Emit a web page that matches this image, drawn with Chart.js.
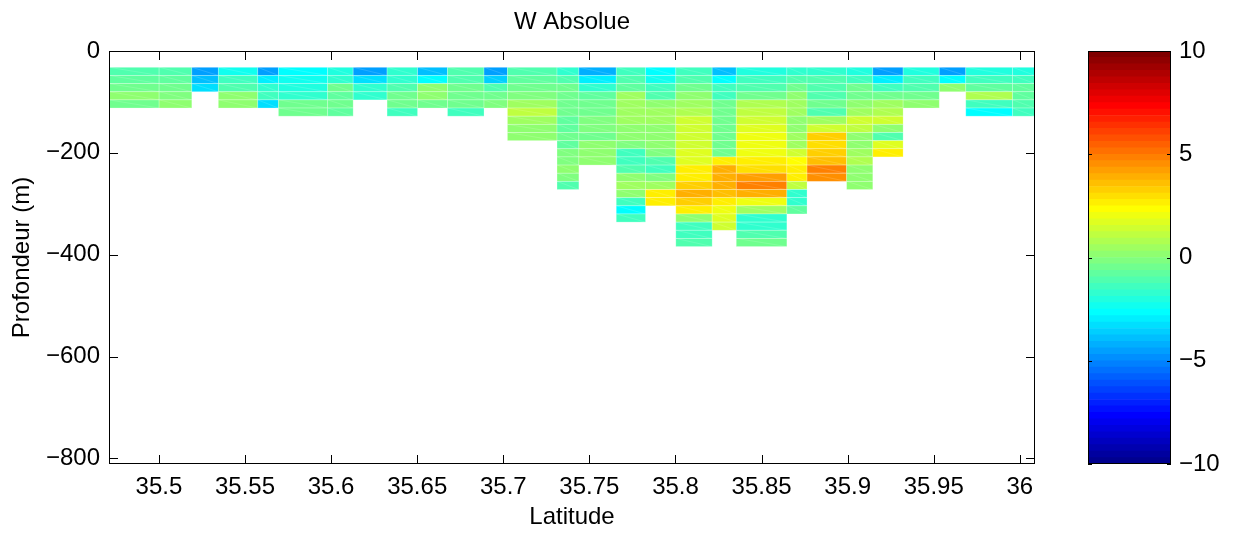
<!DOCTYPE html>
<html>
<head>
<meta charset="utf-8">
<title>W Absolue</title>
<script src="https://cdn.jsdelivr.net/npm/chart.js@4.4.1/dist/chart.umd.min.js"></script>
<style>
  body { margin: 0; background: #fff; }
  #wrap { position: relative; width: 1235px; height: 533px; }
  #wrap canvas { position: absolute; top: 0; }
  #pcolor { left: 0; }
  #cbar { left: 1035px; }
</style>
</head>
<body>
<div id="wrap">
  <canvas id="pcolor" width="1235" height="533"></canvas>
  <canvas id="cbar" width="200" height="533"></canvas>
</div>
<script>
// station latitudes = cell edges along the section
var lats = [35.4710, 35.5001, 35.5191, 35.5345, 35.5574, 35.5694, 35.5980, 35.6128,
            35.6325, 35.6502, 35.6676, 35.6888, 35.7024, 35.7312, 35.7439, 35.7656,
            35.7826, 35.8002, 35.8213, 35.8353, 35.8647, 35.8764, 35.8994, 35.9146,
            35.9322, 35.9532, 35.9686, 35.9958, 36.0088];

// depth bin edges (m)
var depths = [-32, -48, -64, -80, -96, -112, -128, -144, -160, -176, -192, -208,
              -224, -240, -256, -272, -288, -304, -320, -336, -352, -368, -384];

// W per station, top bin first (missing bins are simply not listed)
var w = [
  [-1.1, -0.9, -0.6, 0.0, -0.4],
  [-1.0, -0.7, -0.5, -0.2, 0.0],
  [-4.6, -3.8, -3.2],
  [-2.5, -1.3, -1.1, 0.0, 0.3],
  [-4.6, -3.0, -1.8, -1.3, -3.3],
  [-2.6, -2.4, -2.0, -1.7, -0.4, -0.4],
  [-2.1, -1.6, -0.6, -0.8, -0.6, -0.7],
  [-4.4, -3.3, -1.6, -1.7],
  [-1.8, -1.6, -1.0, -0.4, -0.4, -1.3],
  [-3.8, -2.7, 0.0, 0.0, -0.4],
  [-1.2, -1.0, -0.4, -0.4, -0.6, -1.3],
  [-4.4, -3.5, -1.1, -0.6, -0.3],
  [-1.0, -0.7, -0.5, -0.1, 0.6, 1.0, 0.5, 0.3, 0.3],
  [-1.8, -1.2, -0.6, -0.6, -0.4, -0.6, -0.8, -0.7, -0.6, -0.7, -0.3, -0.2, 0.0, -0.2, -1.2],
  [-4.2, -3.1, -1.8, -0.8, -0.4, -0.4, -0.2, -0.3, -0.4, 0.0, 0.1, 0.2],
  [-1.3, -1.1, -0.7, 0.4, 0.5, 0.5, 0.5, 0.3, 0.0, -0.2, -1.3, -1.5, -1.2, 0.2, 0.4, 0.3, -1.3, -2.6, -1.3],
  [-2.7, -2.2, -1.3, -1.0, 0.0, 0.5, 0.5, 0.3, 0.0, 0.3, -0.2, -1.0, -1.3, -0.3, 0.6, 2.8, 2.7],
  [-1.5, -1.1, -0.4, 0.0, 0.5, 0.9, 1.3, 1.5, 1.3, 1.5, 1.6, 1.8, 2.5, 2.7, 3.4, 4.0, 3.4, 2.7, 0.3, -1.3, -1.4, -1.2],
  [-3.8, -2.7, -1.5, -1.3, -0.6, -0.4, -0.4, -0.6, -0.4, -0.4, -0.4, 2.5, 4.0, 3.9, 3.9, 3.6, 2.8, 2.0, 1.7, 1.5],
  [-2.0, -1.3, -1.0, -0.6, 0.9, 1.1, 1.3, 1.6, 2.1, 1.9, 2.0, 2.6, 3.0, 4.2, 4.8, 4.0, 2.1, 0.6, -1.8, -1.6, -1.1, -0.6],
  [-1.8, -1.0, -0.6, 0.2, 0.5, 0.5, 0.3, 0.0, 0.5, 0.6, 1.5, 2.3, 2.7, 2.6, 1.0, -1.7, -1.6, -0.8],
  [-1.8, -1.0, -1.0, -1.0, -0.6, -1.0, 0.4, 1.5, 3.3, 3.1, 3.3, 3.6, 4.8, 4.4],
  [-2.0, -1.3, -0.6, -0.4, 0.0, 0.5, 1.3, 1.1, 0.0, 0.2, 0.4, 0.8, 0.3, 0.1, 0.1],
  [-4.4, -3.0, -1.3, -0.6, 0.5, 0.9, 1.3, 0.0, -1.0, 1.7, 2.6],
  [-2.0, -1.5, -1.1, -0.6, 0.1],
  [-4.6, -2.8, 0.0],
  [-2.0, -1.5, -0.7, 0.9, -1.5, -2.8],
  [-2.0, -1.3, -0.8, -0.8, -1.0, -1.5]
];

var latTicks = [35.5, 35.55, 35.6, 35.65, 35.7, 35.75, 35.8, 35.85, 35.9, 35.95, 36];
var latTickLabels = ['35.5', '35.55', '35.6', '35.65', '35.7', '35.75', '35.8', '35.85', '35.9', '35.95', '36'];
var depthTicks = [-800, -600, -400, -200, 0];
var depthTickLabels = ['\u2212800', '\u2212600', '\u2212400', '\u2212200', '0'];
var cTicks = [-10, -5, 0, 5, 10];
var cTickLabels = ['\u221210', '\u22125', '0', '5', '10'];
var cmin = -10, cmax = 10;
var depthMin = -811;

// matlab jet(64)
function jet(m) {
  var n = Math.ceil(m / 4), u = [], i;
  for (i = 1; i <= n; i++) u.push(i / n);
  for (i = 1; i < n; i++) u.push(1);
  for (i = n; i >= 1; i--) u.push(i / n);
  var g0 = Math.ceil(n / 2) - (m % 4 == 1 ? 1 : 0);
  var J = [];
  for (i = 0; i < m; i++) J.push([0, 0, 0]);
  for (var k = 0; k < u.length; k++) {
    var g = g0 + k + 1, r = g + n, b = g - n;
    if (r <= m) J[r - 1][0] = u[k];
    if (g <= m) J[g - 1][1] = u[k];
    if (b >= 1) J[b - 1][2] = u[k];
  }
  return J.map(function (c) {
    return 'rgb(' + Math.round(c[0] * 255) + ',' + Math.round(c[1] * 255) + ',' + Math.round(c[2] * 255) + ')';
  });
}
var cmap = jet(64);

function colorFor(v) {
  var idx = Math.floor((v - cmin) / (cmax - cmin) * cmap.length);
  return cmap[Math.max(0, Math.min(cmap.length - 1, idx))];
}

Chart.defaults.font.family = "'Liberation Sans', Arial, sans-serif";
Chart.defaults.font.size = 24;
Chart.defaults.color = '#000';

var pcolorPlugin = {
  id: 'pcolor',
  beforeDatasetsDraw: function (chart) {
    var ctx = chart.ctx, xs = chart.scales.x, ys = chart.scales.y, a = chart.chartArea;
    ctx.save();
    ctx.beginPath();
    ctx.rect(a.left, a.top, a.right - a.left, a.bottom - a.top);
    ctx.clip();
    for (var i = 0; i < w.length; i++) {
      var x0 = xs.getPixelForValue(lats[i]), x1 = xs.getPixelForValue(lats[i + 1]);
      for (var j = 0; j < w[i].length; j++) {
        var y0 = ys.getPixelForValue(depths[j]), y1 = ys.getPixelForValue(depths[j + 1]);
        ctx.fillStyle = colorFor(w[i][j]);
        ctx.fillRect(x0, y0, x1 - x0, y1 - y0);
        // faint render seams like the original export
        ctx.strokeStyle = 'rgba(255,255,255,0.3)';
        ctx.lineWidth = 0.8;
        ctx.strokeRect(x0, y0, x1 - x0, y1 - y0);
        ctx.strokeStyle = 'rgba(255,255,255,0.18)';
        ctx.beginPath();
        ctx.moveTo(x0, y0);
        ctx.lineTo(x1, y1);
        ctx.stroke();
      }
    }
    ctx.restore();
  }
};

// box + inward ticks, matlab style
var boxPlugin = {
  id: 'box',
  afterDraw: function (chart, args, opts) {
    var ctx = chart.ctx, a = chart.chartArea, len = opts.len;
    ctx.save();
    ctx.strokeStyle = '#000';
    ctx.lineWidth = 1;
    ctx.strokeRect(a.left + 0.5, a.top + 0.5, a.right - a.left - 1, a.bottom - a.top - 1);
    ctx.beginPath();
    Object.keys(chart.scales).forEach(function (id) {
      var s = chart.scales[id];
      if (!s.options.display) return;
      s.ticks.forEach(function (t) {
        var p = Math.round(s.getPixelForValue(t.value)) + 0.5;
        if (s.isHorizontal()) {
          ctx.moveTo(p, a.bottom); ctx.lineTo(p, a.bottom - len);
          ctx.moveTo(p, a.top); ctx.lineTo(p, a.top + len);
        } else {
          ctx.moveTo(a.left, p); ctx.lineTo(a.left + len, p);
          ctx.moveTo(a.right, p); ctx.lineTo(a.right - len, p);
        }
      });
    });
    ctx.stroke();
    ctx.restore();
  }
};

new Chart(document.getElementById('pcolor'), {
  type: 'scatter',
  data: { datasets: [{ data: [], showLine: false }] },
  options: {
    responsive: false,
    animation: false,
    layout: { padding: { left: 0, right: 200, top: 0, bottom: 0 } },
    plugins: {
      legend: { display: false },
      tooltip: { enabled: false },
      title: {
        display: true,
        fullSize: false,
        text: 'W Absolue',
        font: { size: 24, weight: 'normal' },
        padding: { top: 8, bottom: 14.2 }
      },
      box: { len: 9 }
    },
    scales: {
      x: {
        type: 'linear',
        min: lats[0],
        max: lats[lats.length - 1],
        afterBuildTicks: function (s) { s.ticks = latTicks.map(function (v) { return { value: v }; }); },
        afterFit: function (s) { s.height = 69; },
        ticks: {
          autoSkip: false, maxRotation: 0, padding: 9,
          callback: function (v, i) { return latTickLabels[i]; }
        },
        grid: { display: false, drawTicks: false },
        border: { display: false },
        title: { display: true, text: 'Latitude', padding: { top: 0, bottom: 1 } }
      },
      y: {
        type: 'linear',
        min: depthMin,
        max: 0,
        afterBuildTicks: function (s) { s.ticks = depthTicks.map(function (v) { return { value: v }; }); },
        afterFit: function (s) { s.width = 109; },
        ticks: {
          autoSkip: false, padding: 9,
          callback: function (v, i) { return depthTickLabels[i]; }
        },
        grid: { display: false, drawTicks: false },
        border: { display: false },
        title: { display: true, text: 'Profondeur (m)', padding: { top: 8, bottom: 0 } }
      }
    }
  },
  plugins: [pcolorPlugin, boxPlugin]
});

// colorbar: one floating bar per colormap level
var cbarSets = cmap.map(function (c, i) {
  var lo = cmin + i * (cmax - cmin) / cmap.length;
  var hi = cmin + (i + 1) * (cmax - cmin) / cmap.length;
  return {
    data: [[lo, hi]],
    backgroundColor: c,
    borderWidth: 0,
    grouped: false,
    barPercentage: 1,
    categoryPercentage: 1
  };
});

new Chart(document.getElementById('cbar'), {
  type: 'bar',
  data: { labels: [''], datasets: cbarSets },
  options: {
    responsive: false,
    animation: false,
    layout: { padding: { left: 53, right: 0, top: 51, bottom: 69 } },
    plugins: { legend: { display: false }, tooltip: { enabled: false }, box: { len: 4 } },
    scales: {
      x: { display: false },
      y: {
        position: 'right',
        min: cmin,
        max: cmax,
        afterBuildTicks: function (s) { s.ticks = cTicks.map(function (v) { return { value: v }; }); },
        afterFit: function (s) { s.width = 64; },
        ticks: {
          autoSkip: false, padding: 8,
          callback: function (v, i) { return cTickLabels[i]; }
        },
        grid: { display: false, drawTicks: false },
        border: { display: false }
      }
    }
  },
  plugins: [boxPlugin]
});
</script>
</body>
</html>
